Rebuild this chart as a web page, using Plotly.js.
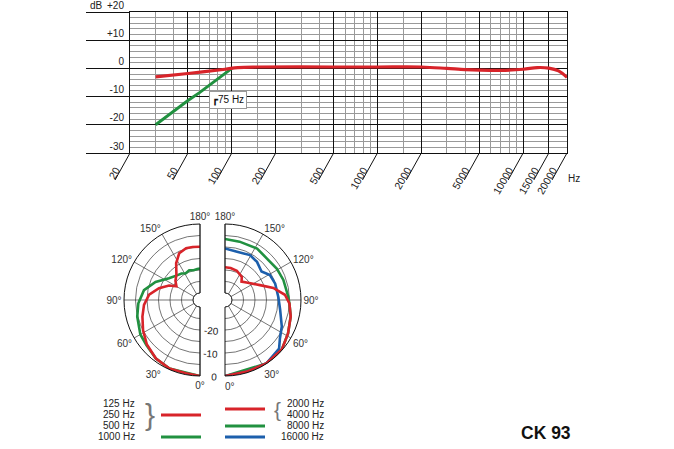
<!DOCTYPE html>
<html>
<head>
<meta charset="utf-8">
<script src="https://cdn.plot.ly/plotly-3.0.1.min.js"></script>
<style>html,body{margin:0;padding:0;background:#fff}</style>
</head>
<body>
<div id="chart" style="width:674px;height:449px"></div>
<script>
// frequency response
var gridFreqs = [20,30,40,50,60,70,80,90,100,150,200,300,400,500,600,700,800,900,1000,1500,2000,3000,4000,5000,6000,7000,8000,9000,10000,15000,20000];
var labelFreqs = [20,50,100,200,500,1000,2000,5000,10000,15000,20000];
var dbTicks = [-30,-20,-10,0,10,20];
var dbTickText = ['-30','-20','-10','0','+10','+20'];

var freqRed = [30,50,90,110,150,500,1000,2000,3000,4000,5000,7000,10000,12500,15000,17500,20000];
var dbRed   = [-3.0,-1.8,-0.3,0.3,0.5,0.5,0.5,0.5,0.0,-0.4,-0.6,-0.7,-0.3,0.3,0.1,-0.9,-3.2];
var freqGreen = [30,40,50,60,70,80,90,100];
var dbGreen   = [-20,-15.1,-11.4,-8.6,-6.0,-3.7,-1.7,0.0];

// polar patterns, angle in degrees, level in dB
var thetaLeftRed = [0,11,24,37,50,62,74,85,96,106,115,120,128,137,147,156,165,172,180];
var rLeftRed     = [0,-0.6,-0.4,-1.2,-2.9,-5.0,-7.0,-8.6,-10.8,-14.5,-18.2,-21.2,-19.5,-18.0,-14.0,-10.8,-9.7,-9.8,-9.9];
var thetaLeftGreen = [0,24,37,50,60,75,87,100,112,125,138,145,152,160,168,175,180];
var rLeftGreen     = [0,-0.4,-1.2,-2.6,-3.1,-4.8,-6.2,-8.3,-12.2,-16.6,-18.5,-19.0,-19.9,-19.3,-19.8,-19.5,-19.3];

var thetaRightRed = [0,17,33,49,62,76,87,95,104,113,129,138,144,158,170,180];
var rRightRed     = [0,-0.5,-0.1,-0.3,-2.0,-3.6,-5.0,-6.9,-11.4,-16.5,-21.0,-22.3,-20.6,-19.3,-18.9,-18.8];
var thetaRightGreen = [0,33,49,62,76,87,93,109,121,135,148,166,180];
var rRightGreen     = [0,-0.1,-0.3,-2.0,-3.6,-5.0,-5.5,-6.2,-6.7,-7.4,-6.7,-6.9,-6.5];
var thetaRightBlue = [0,17,33,48,55,65,80,93,108,119,128,140,151,166,180];
var rRightBlue     = [0,-0.5,-0.1,-1.4,-3.9,-5.8,-8.7,-9.8,-10.1,-10.7,-12.9,-11.4,-10.7,-11.4,-10.6];

var angleTicks = [0,30,60,90,120,150,180];
var ringVals = [-25,-20,-15,-10,-5,0];
var ringText = ['','-20','','-10','','0'];

var legendLeft = ['125 Hz','250 Hz','500 Hz','1000 Hz'];
var legendRight = ['2000 Hz','4000 Hz','8000 Hz','16000 Hz'];

var RED = '#d8242a', GREEN = '#219140', BLUE = '#1c5fac';
var W = 674, H = 449;
function px(x) { return x / W; }
function py(y) { return 1 - y / H; }
// left half is mirrored: angle measured the other way round
function mirror(a) { return 360 - a; }
// 0 deg written as a full turn
function fullTurn(a) { return a === 0 ? 360 : a; }

var traces = [
  {type:'scatter', x:freqGreen, y:dbGreen, mode:'lines', line:{color:GREEN, width:3}, hoverinfo:'skip'},
  {type:'scatter', x:freqRed, y:dbRed, mode:'lines', line:{color:RED, width:3.2, shape:'spline'}, hoverinfo:'skip'},
  {type:'scatterpolar', subplot:'polar', theta:thetaLeftGreen.map(mirror), r:rLeftGreen, mode:'lines', line:{color:GREEN, width:2.6}},
  {type:'scatterpolar', subplot:'polar', theta:thetaLeftRed.map(mirror), r:rLeftRed, mode:'lines', line:{color:RED, width:2.6}},
  {type:'scatterpolar', subplot:'polar2', theta:thetaRightGreen, r:rRightGreen, mode:'lines', line:{color:GREEN, width:2.6}},
  {type:'scatterpolar', subplot:'polar2', theta:thetaRightBlue, r:rRightBlue, mode:'lines', line:{color:BLUE, width:2.6}},
  {type:'scatterpolar', subplot:'polar2', theta:thetaRightRed, r:rRightRed, mode:'lines', line:{color:RED, width:2.6}}
];

var lx0 = Math.log10(20), lx1 = Math.log10(20000);

// diagonal tick strokes under the frequency axis
var shapes = labelFreqs.map(function(f) {
  return {type:'line', xref:'x domain', yref:'y domain',
    xsizemode:'pixel', xanchor:(Math.log10(f) - lx0) / (lx1 - lx0), x0:0, x1:-15,
    ysizemode:'pixel', yanchor:0, y0:0, y1:-27,
    line:{color:'#111', width:1}};
});

// legend swatches
function swatch(x0, x1, y, color) {
  return {type:'line', xref:'paper', yref:'paper', x0:px(x0), x1:px(x1), y0:py(y), y1:py(y), line:{color:color, width:3}};
}
shapes.push(swatch(161, 201, 415, RED));
shapes.push(swatch(161, 201, 437, GREEN));
shapes.push(swatch(225, 265, 409, RED));
shapes.push(swatch(225, 265, 426, GREEN));
shapes.push(swatch(225, 265, 437, BLUE));

var txt = {family:'Liberation Sans, Arial, sans-serif', size:10, color:'#222'};
function note(x, y, text, xanchor, font) {
  return {xref:'paper', yref:'paper', x:px(x), y:py(y), text:text, showarrow:false,
    xanchor:xanchor, yanchor:'middle', font:font || txt};
}
var annotations = [
  note(88, 5, 'dB', 'left'),
  note(566, 178, 'Hz', 'left'),
  {xref:'x', yref:'y', x:Math.log10(94), y:-11.3, text:'┏75 Hz', showarrow:false,
   bgcolor:'#fff', bordercolor:'#999', borderwidth:1, borderpad:2, font:{family:txt.family, size:10, color:'#111'}},
  note(150, 414, '}', 'center', {family:txt.family, size:30, color:'#777'}),
  note(277, 409, '{', 'center', {family:txt.family, size:21, color:'#777'}),
  note(546, 433, '<b>CK 93</b>', 'center', {family:txt.family, size:17.5, color:'#111'}),
  // 0 deg of the right half (plotly drops it where the radial axis sits)
  note(230, 386, angleTicks[0] + '°', 'center', {family:txt.family, size:10, color:'#333'})
];
legendLeft.forEach(function(t, i) { annotations.push(note(137, 403 + i * 11.3, t, 'right')); });
legendRight.forEach(function(t, i) { annotations.push(note(326, 403 + i * 11.3, t, 'right')); });

function polarAxes(sector, rotation, tickvals, domX, labels) {
  return {
    domain:{x:[px(domX[0]), px(domX[1])], y:[py(376), py(224)]},
    sector:sector, hole:0.092, bgcolor:'rgba(0,0,0,0)',
    angularaxis:{rotation:rotation, direction:'counterclockwise', tickmode:'array', tickvals:tickvals,
      ticktext:angleTicks.map(function(a) { return a + '°'; }), showticklabels:true,
      showline:true, linecolor:'#111', linewidth:1, gridcolor:'#3a3a3a', gridwidth:0.7, ticks:'',
      tickfont:{family:txt.family, size:10, color:'#333'}},
    radialaxis:{range:[-30,0], tickmode:'array', tickvals:ringVals, ticktext:ringText, showticklabels:labels,
      angle:268, side:'clockwise', tickangle:-88, showline:false, ticks:'', gridcolor:'#3a3a3a', gridwidth:0.7,
      tickfont:{family:txt.family, size:10, color:'#222'}}
  };
}

var layout = {
  width:W, height:H, margin:{l:0, r:0, t:0, b:0},
  paper_bgcolor:'#fff', plot_bgcolor:'#fff', showlegend:false,
  font:txt,
  xaxis:{type:'log', range:[lx0, lx1], domain:[px(130), px(567)],
    tickmode:'array', tickvals:labelFreqs, ticktext:labelFreqs.map(String), tickangle:-60,
    ticks:'', ticklabelshift:-14, ticklabelstandoff:6,
    showgrid:true, gridcolor:'#111', gridwidth:1,
    minor:{tickmode:'array', tickvals:gridFreqs, showgrid:true, gridcolor:'#999', gridwidth:1},
    showline:true, mirror:true, linecolor:'#111', linewidth:1, zeroline:false, tickfont:{family:txt.family, size:10.5, color:'#222'}},
  yaxis:{range:[-30, 20], domain:[py(153), py(12)],
    tickmode:'array', tickvals:dbTicks, ticktext:dbTickText,
    ticks:'outside', ticklen:43, tickcolor:'#111', tickwidth:1, ticklabelstandoff:-40, ticklabelshift:-7,
    ticklabeloverflow:'allow',
    showgrid:true, gridcolor:'#111', gridwidth:1,
    minor:{dtick:2, showgrid:true, gridcolor:'#999', gridwidth:1},
    showline:true, mirror:true, linecolor:'#111', linewidth:1, zeroline:false, tickfont:txt},
  polar:polarAxes([90, 270], 270, angleTicks.map(mirror), [124, 200], false),
  polar2:polarAxes([-90, 90], -90, angleTicks.map(fullTurn), [225, 301], true),
  shapes:shapes,
  annotations:annotations
};

Plotly.newPlot('chart', traces, layout, {staticPlot:true, displayModeBar:false});
</script>
</body>
</html>
